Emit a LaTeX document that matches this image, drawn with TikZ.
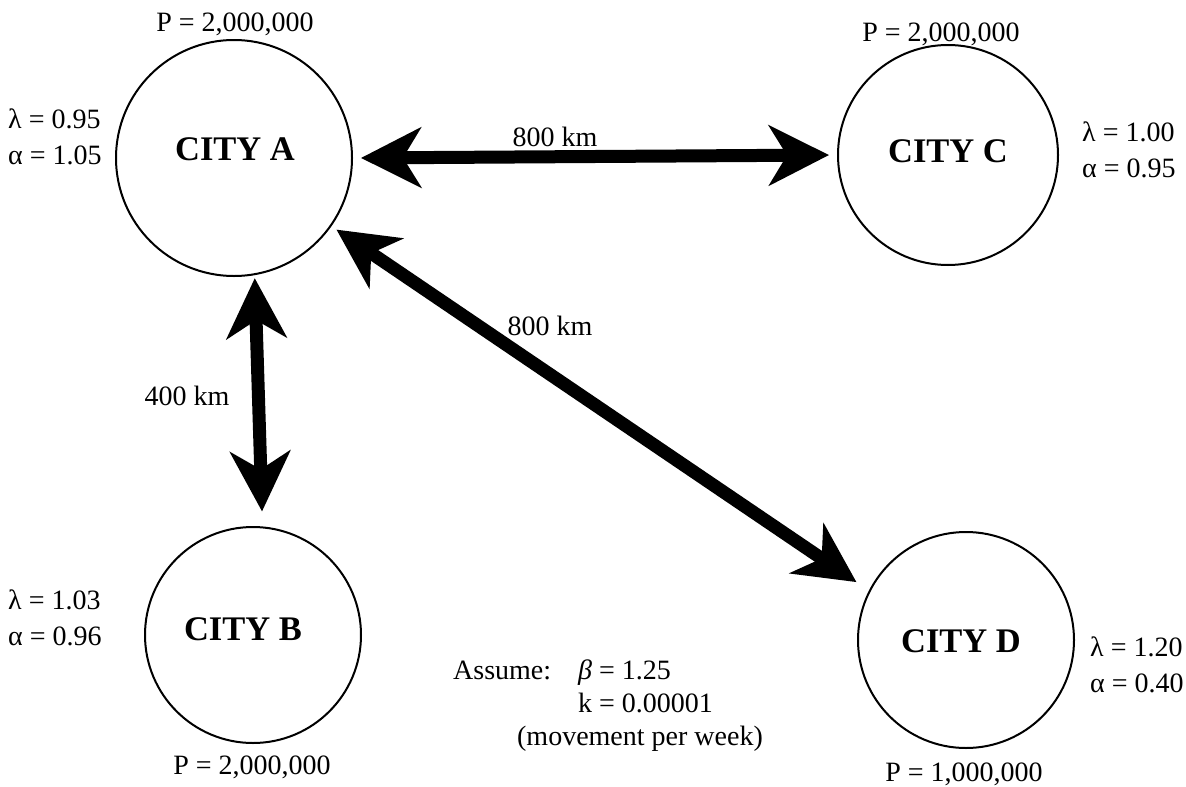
\documentclass[tikz,border=0pt]{standalone}
\usepackage{fontspec}
\setmainfont{Liberation Serif}
\usetikzlibrary{arrows.meta}
\begin{document}
\begin{tikzpicture}[x=1pt,y=-1pt,
  city/.style={circle, draw, line width=2pt, minimum size=#1, inner sep=0pt},
  lbl/.style={font=\fontsize{28}{36}\selectfont, inner sep=0pt, anchor=base},
  lft/.style={lbl, anchor=base west},
  cityname/.style={font=\fontsize{34.5}{40}\selectfont\bfseries, inner sep=0pt},
  dist/.style={line width=13pt, {Stealth[length=60pt,width=60pt,inset=18pt]}-{Stealth[length=60pt,width=60pt,inset=18pt]}}
]
\useasboundingbox (0,0) rectangle (1186,787);

% cities
\node[city=236pt] (A) at (234,158) {};
\node[city=220pt] (C) at (948,155) {};
\node[city=216pt] (B) at (253,635) {};
\node[city=216pt] (D) at (966,640) {};

\node[cityname] (nA) at (235,149) {CITY A};
\node[cityname] (nC) at (948,151) {CITY C};
\node[cityname] (nB) at (243,629) {CITY B};
\node[cityname] (nD) at (961,641) {CITY D};

% populations
\node[lbl] (pA) at (235,31) {P = 2,000,000};
\node[lbl] (pC) at (941,41) {P = 2,000,000};
\node[lbl] (pB) at (252,774) {P = 2,000,000};
\node[lbl] (pD) at (964,781) {P = 1,000,000};

% parameters
\node[lft] (lamA) at (8,128) {λ = 0.95};
\node[lft] (alpA) at (8,164) {α = 1.05};
\node[lft] (lamC) at (1082,141) {λ = 1.00};
\node[lft] (alpC) at (1082,177) {α = 0.95};
\node[lft] (lamB) at (8,609) {λ = 1.03};
\node[lft] (alpB) at (8,645) {α = 0.96};
\node[lft] (lamD) at (1090,656) {λ = 1.20};
\node[lft] (alpD) at (1090,692) {α = 0.40};

% distances
\draw[dist, shorten <=8pt, shorten >=8pt] (A.0) -- (C.180);
\draw[dist, shorten <=3pt, shorten >=15pt] (A.-80) -- (B.85);
\draw[dist, shorten <=6pt, shorten >=15pt] (A.-35.5) -- (D.153);

\node[lbl] (dAC) at (555,146) {800 km};
\node[lbl] (dAD) at (550,335) {800 km};
\node[lbl] (dAB) at (187,405) {400 km};

% assumptions
\node[lft] (asm) at (453,679) {Assume:};
\node[lft] (beta) at (578,679) {{\itshape β} = 1.25};
\node[lft] (kval) at (578,712) {k = 0.00001};
\node[lbl] (mov) at (640,745) {(movement per week)};
\end{tikzpicture}
\end{document}
